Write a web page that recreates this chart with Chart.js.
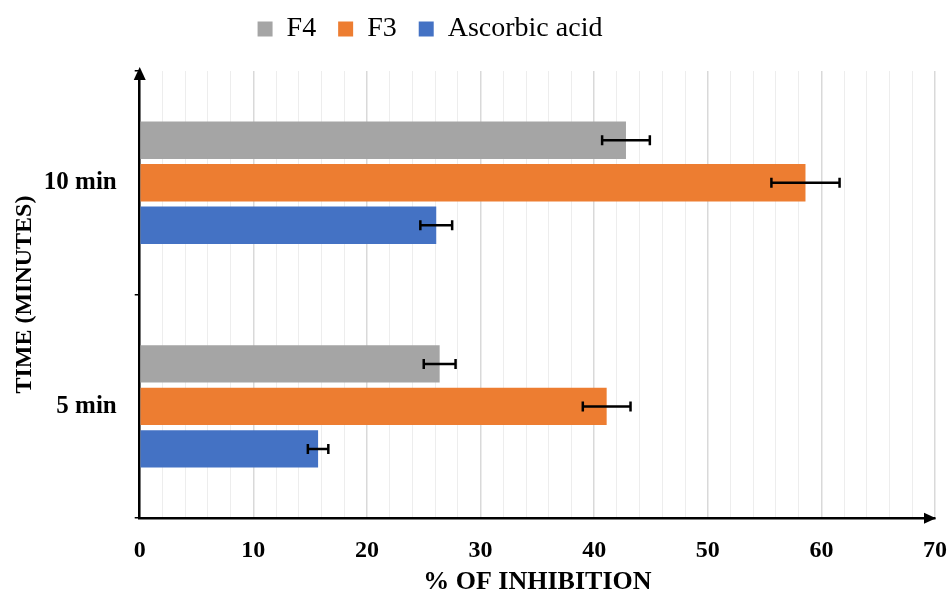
<!DOCTYPE html>
<html>
<head>
<meta charset="utf-8">
<script src="https://cdn.jsdelivr.net/npm/chart.js@4.4.0/dist/chart.umd.min.js"></script>
<style>
  body { margin: 0; background: #fff; }
  #wrap { width: 950px; height: 595px; }
</style>
</head>
<body>
<div id="wrap"><canvas id="myChart"></canvas></div>
<script>
// values
const categories = ['10 min', '5 min'];
const seriesNames = ['F4', 'F3', 'Ascorbic acid'];
const seriesColors = ['#A5A5A5', '#ED7D31', '#4472C4'];
const f4Values = [42.8, 26.4];
const f3Values = [58.6, 41.1];
const ascorbicValues = [26.1, 15.7];
const f4Errors = [2.1, 1.4];
const f3Errors = [3.0, 2.1];
const ascorbicErrors = [1.4, 0.9];

const serif = "'Liberation Serif', 'Times New Roman', serif";

// draws the error bars from each bar's centre and the x scale
const errorBars = {
  id: 'errorBars',
  afterDatasetsDraw(chart) {
    const ctx = chart.ctx;
    const xs = chart.scales.x;
    ctx.save();
    ctx.strokeStyle = '#000';
    ctx.lineWidth = 2.5;
    chart.data.datasets.forEach((ds, i) => {
      const meta = chart.getDatasetMeta(i);
      meta.data.forEach((bar, j) => {
        const v = ds.data[j], e = ds.errors[j];
        const x1 = xs.getPixelForValue(v - e);
        const x2 = xs.getPixelForValue(v + e);
        const y = bar.y;
        ctx.beginPath();
        ctx.moveTo(x1, y); ctx.lineTo(x2, y);
        ctx.moveTo(x1, y - 5); ctx.lineTo(x1, y + 5);
        ctx.moveTo(x2, y - 5); ctx.lineTo(x2, y + 5);
        ctx.stroke();
      });
    });
    ctx.restore();
  }
};

// arrow heads at the end of both axes
const axisArrows = {
  id: 'axisArrows',
  afterDraw(chart) {
    const ctx = chart.ctx;
    const a = chart.chartArea;
    ctx.save();
    ctx.fillStyle = '#000';
    ctx.beginPath();
    ctx.moveTo(a.right + 1, a.bottom);
    ctx.lineTo(a.right - 11, a.bottom - 5.5);
    ctx.lineTo(a.right - 11, a.bottom + 5.5);
    ctx.closePath();
    ctx.fill();
    ctx.beginPath();
    ctx.moveTo(a.left, a.top - 4);
    ctx.lineTo(a.left - 6, a.top + 9);
    ctx.lineTo(a.left + 6, a.top + 9);
    ctx.closePath();
    ctx.fill();
    ctx.restore();
  }
};

// the legend sits left of the page centre and close to the top
const legendShift = {
  id: 'legendShift',
  afterLayout(chart) {
    const lg = chart.legend;
    lg.left -= 50;
    lg.right -= 50;
    lg.top -= 18;
    lg.bottom -= 18;
  }
};

const allValues = [f4Values, f3Values, ascorbicValues];
const allErrors = [f4Errors, f3Errors, ascorbicErrors];

new Chart(document.getElementById('myChart'), {
  type: 'bar',
  data: {
    labels: categories,
    datasets: seriesNames.map((name, i) => ({
      label: name,
      data: allValues[i],
      errors: allErrors[i],
      backgroundColor: seriesColors[i],
      barPercentage: 0.88,
      categoryPercentage: 0.57
    }))
  },
  plugins: [errorBars, axisArrows, legendShift],
  options: {
    indexAxis: 'y',
    responsive: true,
    maintainAspectRatio: false,
    animation: false,
    layout: { padding: { left: 10, right: 0, top: 11, bottom: 0 } },
    plugins: {
      legend: {
        position: 'top',
        labels: {
          boxWidth: 15,
          boxHeight: 15,
          padding: 22,
          color: '#000',
          font: { family: serif, size: 28, lineHeight: 1 }
        }
      },
      tooltip: { enabled: false }
    },
    scales: {
      x: {
        min: 0,
        max: 70,
        afterFit: s => { s.height -= 17; s.paddingRight = 15; },
        ticks: {
          stepSize: 2,
          autoSkip: false,
          maxRotation: 0,
          padding: 18,
          color: '#000',
          font: { family: serif, size: 24, weight: 'bold' },
          callback: v => (v % 10 === 0 ? v : '')
        },
        grid: {
          drawTicks: false,
          color: c => (c.tick && c.tick.value % 10 === 0 ? '#d9d9d9' : '#ededed'),
          lineWidth: c => (c.tick && c.tick.value % 10 === 0 ? 1.5 : 1)
        },
        border: { color: '#000', width: 2.5 },
        title: {
          display: true,
          text: '% OF INHIBITION',
          color: '#000',
          padding: { top: 3, bottom: 0 },
          font: { family: serif, size: 26, weight: 'bold', lineHeight: 1 }
        }
      },
      y: {
        afterFit: s => { s.width -= 18; },
        ticks: {
          color: '#000',
          padding: 18,
          font: { family: serif, size: 25, weight: 'bold' }
        },
        grid: {
          drawOnChartArea: false,
          offset: true,
          tickLength: 5,
          color: '#000',
          lineWidth: 1.5
        },
        border: { color: '#000', width: 2.5 },
        title: {
          display: true,
          text: 'TIME (MINUTES)',
          color: '#000',
          padding: { top: 0, bottom: 5 },
          font: { family: serif, size: 24, weight: 'bold' }
        }
      }
    }
  }
});
</script>
</body>
</html>
